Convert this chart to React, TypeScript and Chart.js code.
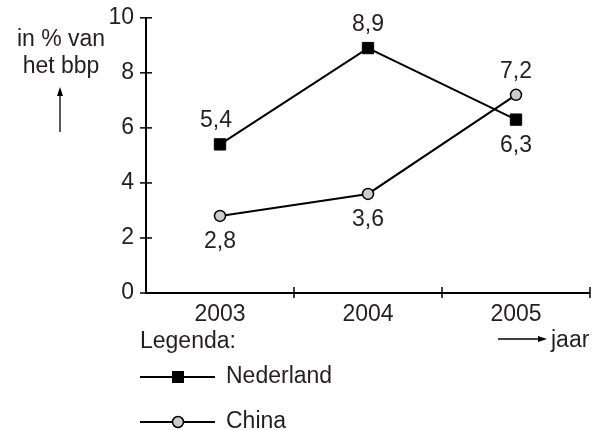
import React, { useEffect, useRef } from "react";
import { Chart, registerables } from "chart.js";

Chart.register(...registerables);

const years = ["2003", "2004", "2005"];
const nederland = [5.4, 8.9, 6.3];
const china = [2.8, 3.6, 7.2];
const nederlandLabels = ["5,4", "8,9", "6,3"];
const chinaLabels = ["2,8", "3,6", "7,2"];
const yTicks = [0, 2, 4, 6, 8, 10];

const FAMILY = "'Liberation Sans', Arial, sans-serif";
const FONT = "23px " + FAMILY;
const TEXT = "#231f20";

const decorPlugin = {
  id: "decor",
  afterDraw(chart: any) {
    const ctx = chart.ctx as CanvasRenderingContext2D;
    const area = chart.chartArea;
    const xs = chart.scales.x;
    const ys = chart.scales.y;
    ctx.save();
    ctx.strokeStyle = "#000";
    ctx.lineWidth = 2;
    // axes
    ctx.beginPath();
    ctx.moveTo(area.left, area.top);
    ctx.lineTo(area.left, area.bottom);
    ctx.lineTo(area.right, area.bottom);
    ctx.stroke();
    // y ticks crossing the axis
    ctx.lineWidth = 1.5;
    yTicks.forEach((v) => {
      const y = ys.getPixelForValue(v);
      ctx.beginPath();
      ctx.moveTo(area.left - 6, y);
      ctx.lineTo(area.left + 6, y);
      ctx.stroke();
    });
    // x ticks at category boundaries
    const n = years.length;
    for (let i = 1; i <= n; i++) {
      const x = area.left + ((area.right - area.left) * i) / n;
      ctx.beginPath();
      ctx.moveTo(x, area.bottom - 6);
      ctx.lineTo(x, area.bottom + 5);
      ctx.stroke();
    }

    // data labels
    ctx.font = FONT;
    ctx.fillStyle = TEXT;
    ctx.textAlign = "center";
    ctx.textBaseline = "alphabetic";
    const nlAbove = [true, true, false];
    const cnAbove = [false, false, true];
    const nlDx = [-4, 0, 0];
    const cnDx = [0, 0, 0];
    nederland.forEach((v, i) => {
      const x = xs.getPixelForValue(i) + nlDx[i];
      const y = ys.getPixelForValue(v);
      ctx.fillText(nederlandLabels[i], x, nlAbove[i] ? y - 17 : y + 32);
    });
    china.forEach((v, i) => {
      const x = xs.getPixelForValue(i) + cnDx[i];
      const y = ys.getPixelForValue(v);
      ctx.fillText(chinaLabels[i], x, cnAbove[i] ? y - 17 : y + 32);
    });

    // y title
    ctx.textAlign = "center";
    ctx.fillText("in % van", 61, 46);
    ctx.fillText("het bbp", 61, 73);
    // up arrow
    ctx.strokeStyle = "#000";
    ctx.lineWidth = 1.3;
    ctx.beginPath();
    ctx.moveTo(60, 132);
    ctx.lineTo(60, 93);
    ctx.stroke();
    ctx.beginPath();
    ctx.moveTo(60, 87);
    ctx.lineTo(57, 96);
    ctx.lineTo(63, 96);
    ctx.closePath();
    ctx.fillStyle = "#000";
    ctx.fill();

    // jaar arrow
    ctx.beginPath();
    ctx.moveTo(498, 339);
    ctx.lineTo(540, 339);
    ctx.stroke();
    ctx.beginPath();
    ctx.moveTo(547, 339);
    ctx.lineTo(538, 336);
    ctx.lineTo(538, 342);
    ctx.closePath();
    ctx.fill();
    ctx.fillStyle = TEXT;
    ctx.textAlign = "left";
    ctx.textBaseline = "alphabetic";
    ctx.fillText("jaar", 551, 347);

    // legend
    ctx.fillText("Legenda:", 140, 348);
    const drawRow = (y: number, label: string, kind: "rect" | "circle") => {
      ctx.strokeStyle = "#000";
      ctx.lineWidth = 2;
      ctx.beginPath();
      ctx.moveTo(140, y);
      ctx.lineTo(215, y);
      ctx.stroke();
      if (kind === "rect") {
        ctx.fillStyle = "#000";
        ctx.fillRect(172, y - 6, 12, 12);
      } else {
        ctx.beginPath();
        ctx.arc(178, y, 5.5, 0, Math.PI * 2);
        ctx.fillStyle = "#cccccc";
        ctx.fill();
        ctx.lineWidth = 1.5;
        ctx.stroke();
      }
      ctx.fillStyle = TEXT;
      ctx.textBaseline = "middle";
      ctx.fillText(label, 226, y);
    };
    drawRow(377, "Nederland", "rect");
    drawRow(422, "China", "circle");
    ctx.restore();
  },
};

export default function App() {
  const ref = useRef<HTMLCanvasElement>(null);
  useEffect(() => {
    if (!ref.current) return;
    const chart = new Chart(ref.current, {
      type: "line",
      data: {
        labels: years,
        datasets: [
          {
            label: "Nederland",
            data: nederland,
            borderColor: "#000",
            backgroundColor: "#000",
            borderWidth: 2,
            pointStyle: "rect",
            pointRadius: 8,
            pointBorderWidth: 1,
            pointBackgroundColor: "#000",
            pointBorderColor: "#000",
            tension: 0,
          },
          {
            label: "China",
            data: china,
            borderColor: "#000",
            backgroundColor: "#cccccc",
            borderWidth: 2,
            pointStyle: "circle",
            pointRadius: 5.5,
            pointBorderWidth: 1.5,
            pointBackgroundColor: "#cccccc",
            pointBorderColor: "#000",
            tension: 0,
          },
        ],
      },
      options: {
        animation: false,
        responsive: false,
        devicePixelRatio: 1,
        layout: { padding: { left: 0, right: 5, top: 17, bottom: 0 } },
        plugins: {
          legend: { display: false },
          tooltip: { enabled: false },
          title: { display: false },
        },
        scales: {
          x: {
            type: "category",
            offset: true,
            grid: { display: false, offset: true },
            border: { display: false },
            ticks: {
              color: TEXT,
              font: { family: FAMILY, size: 23 },
              padding: 0,
              maxRotation: 0,
            },
            afterFit: (s: any) => {
              s.height = 137;
            },
          },
          y: {
            min: 0,
            max: 10,
            grid: { display: false },
            border: { display: false },
            ticks: {
              stepSize: 2,
              color: TEXT,
              font: { family: FAMILY, size: 23 },
              padding: 4,
            },
            afterFit: (s: any) => {
              s.width = 146;
            },
          },
        },
      },
      plugins: [decorPlugin],
    });
    return () => chart.destroy();
  }, []);
  return (
    <div style={{ position: "absolute", left: 0, top: 0, width: 599, height: 430, background: "#fff" }}>
      <canvas ref={ref} width={599} height={430} />
    </div>
  );
}
